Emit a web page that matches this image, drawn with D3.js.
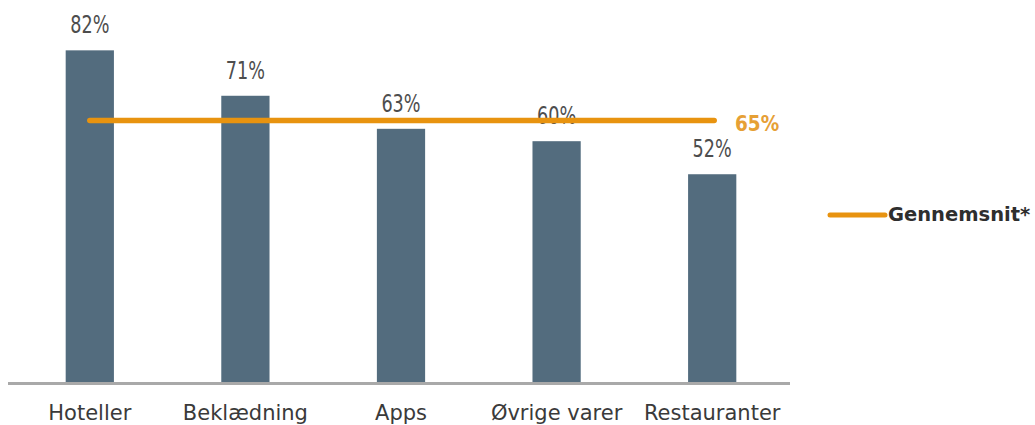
<!DOCTYPE html>
<html><head><meta charset="utf-8">
<script src="https://cdn.jsdelivr.net/npm/d3@7"></script>
<style>body{margin:0;background:#fff}svg{display:block}</style>
</head><body>
<svg id="c" width="1035" height="425"></svg>
<script>
const categories = ["Hoteller","Beklædning","Apps","Øvrige varer","Restauranter"];
const values = [82,71,63,60,52];
const average = 65;
const legendLabel = "Gennemsnit*";

const svg = d3.select("#c");
const cond = "'DejaVu Sans Condensed', 'DejaVu Sans', sans-serif";
const reg = "'DejaVu Sans', sans-serif";
const x = d3.scaleBand().domain(categories).range([12,790]).paddingInner(0.69).paddingOuter(0.345);
const y = d3.scaleLinear().domain([0,100]).range([389,-24]);
const axisY = 383.5;

svg.selectAll("rect.bar").data(values).enter().append("rect")
  .attr("x",(d,i)=>x(categories[i])).attr("width",x.bandwidth())
  .attr("y",d=>y(d)).attr("height",d=>axisY-y(d)).attr("fill","#536C7E");

svg.append("line").attr("x1",8).attr("x2",790).attr("y1",axisY).attr("y2",axisY)
  .attr("stroke","#A9A9A9").attr("stroke-width",3);

const xAxis = d3.axisBottom(x).tickSize(0).tickPadding(0);
const ax = svg.append("g").attr("transform",`translate(0,${axisY})`).call(xAxis);
ax.select(".domain").remove();
ax.selectAll("text").attr("dy",null).attr("y",36).attr("font-family",reg).attr("font-size",21).attr("fill","#3a3a3a");

svg.selectAll("text.val").data(values).enter().append("text")
  .attr("transform",(d,i)=>`translate(${x(categories[i])+x.bandwidth()/2},${y(d)-17}) scale(0.8,1)`)
  .attr("text-anchor","middle").attr("font-family",cond).attr("font-size",24.5).attr("fill","#4d4d4d")
  .text(d=>d+"%");

const cx0 = x(categories[0])+x.bandwidth()/2, cx1 = x(categories[4])+x.bandwidth()/2;
svg.append("line").attr("x1",cx0).attr("x2",cx1+2).attr("y1",y(average)).attr("y2",y(average))
  .attr("stroke","#E8930F").attr("stroke-width",5.5).attr("stroke-linecap","round");
svg.append("text").attr("x",735).attr("y",y(average)+10).attr("font-family",cond).attr("font-weight","bold")
  .attr("font-size",20.5).attr("fill","#E6A035").text(average+"%");

svg.append("line").attr("x1",830).attr("x2",885).attr("y1",215).attr("y2",215)
  .attr("stroke","#E8930F").attr("stroke-width",5).attr("stroke-linecap","round");
svg.append("text").attr("x",888).attr("y",221).attr("font-family",reg).attr("font-weight","bold")
  .attr("font-size",19.5).attr("fill","#2e2e2e").text(legendLabel);
</script>
</body></html>
